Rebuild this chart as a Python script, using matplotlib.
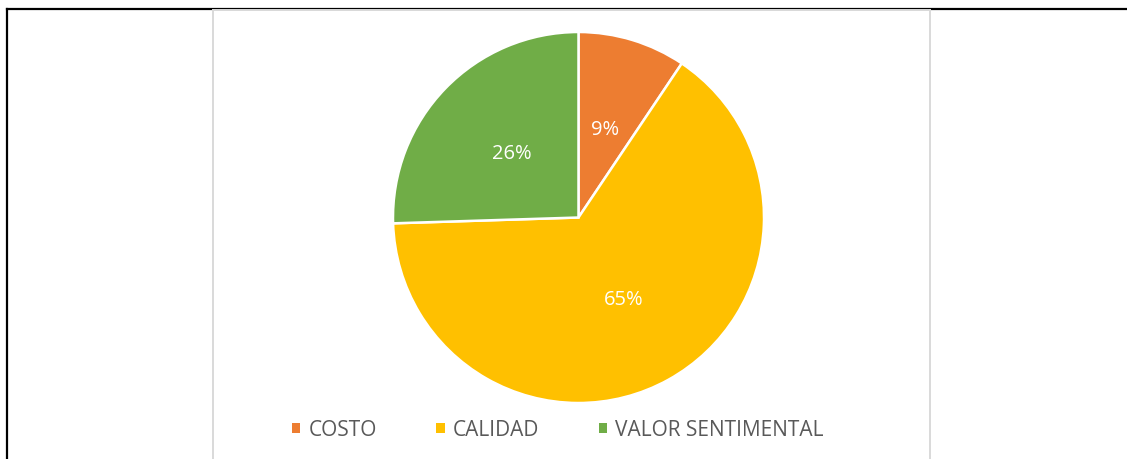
import matplotlib
matplotlib.use("Agg")
import matplotlib.pyplot as plt
from matplotlib.lines import Line2D
from matplotlib.patches import Patch
import numpy as np

categories = ["COSTO", "CALIDAD", "VALOR SENTIMENTAL"]
values = [9.4, 65.1, 25.5]
labels = ["9%", "65%", "26%"]
colors = ["#ED7D31", "#FFC000", "#70AD47"]

W, H = 1127, 460
fig = plt.figure(figsize=(W / 100, H / 100), dpi=100)
plt.rcParams["font.family"] = ["Open Sans", "DejaVu Sans"]

# page borders
kw = dict(color="black", lw=1.6, solid_capstyle="projecting")
fig.add_artist(Line2D([6.5 / W, 1], [1 - 9.5 / H] * 2, **kw))
fig.add_artist(Line2D([6.5 / W] * 2, [0, 1 - 9.5 / H], **kw))
# chart frame
gray = "#D9D9D9"
fig.add_artist(Line2D([212.5 / W, 929.5 / W], [1 - 11 / H] * 2, color=gray, lw=1.4))
fig.add_artist(Line2D([212.5 / W] * 2, [0, 1 - 11 / H], color=gray, lw=1.4))
fig.add_artist(Line2D([929.5 / W] * 2, [0, 1 - 11 / H], color=gray, lw=1.4))

cx, cy, r = 578.5, 218.5, 185.5
ax = fig.add_axes([(cx - r) / W, 1 - (cy + r) / H, 2 * r / W, 2 * r / H])
wedges, _ = ax.pie(values, colors=colors, startangle=90, counterclock=False,
                   radius=1, wedgeprops=dict(edgecolor="white", linewidth=1.8))
ang = 90.0
for v, lab in zip(values, labels):
    mid = ang - v * 3.6 / 2
    ax.text(0.5 * np.cos(np.radians(mid)), 0.5 * np.sin(np.radians(mid)), lab,
            ha="center", va="center", color="white", fontsize=14.5)
    ang -= v * 3.6
ax.set_xlim(-1, 1)
ax.set_ylim(-1, 1)
ax.set_aspect("equal")
ax.axis("off")

handles = [Patch(facecolor=c, edgecolor="none") for c in colors]
fig.legend(handles, categories, loc="center", ncol=3, frameon=False,
           bbox_to_anchor=(558 / W, 1 - 431 / H), fontsize=15,
           handlelength=0.4, handleheight=0.4, handletextpad=0.4,
           columnspacing=2.85, labelcolor="#595959")

fig.savefig("out.png", dpi=100)
